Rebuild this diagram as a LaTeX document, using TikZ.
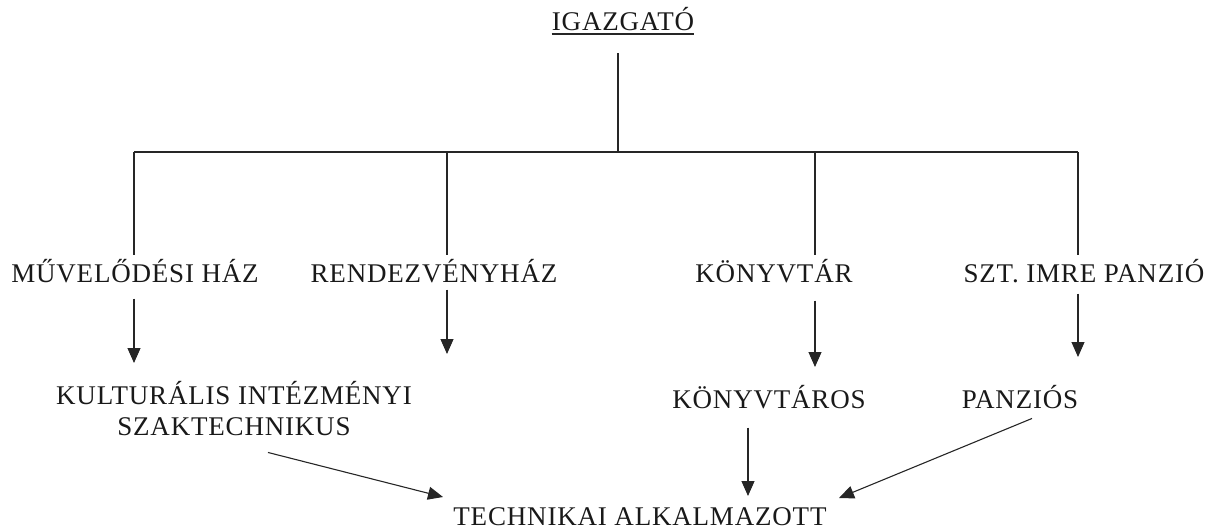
\documentclass[tikz,border=0pt]{standalone}
\usepackage{fontspec}
\setmainfont{Liberation Serif}[LetterSpace=3]
\usetikzlibrary{arrows.meta}

\def\unit{1pt}

\begin{document}
\begin{tikzpicture}[x=\unit, y=-\unit,
    lbl/.style={font=\fontsize{27}{31}\selectfont, inner sep=0pt, anchor=base, align=center, text=black!90},
    conn/.style={line width=1.1pt, draw=black!85},
    arr/.style={conn, -{Triangle[length=15pt,width=13pt]}}]
      \useasboundingbox (0,0) rectangle (1218,530);
      \node[lbl] (igaz) at (623,30) {IGAZGATÓ};
      \draw[line width=1.8pt, black!85] ([yshift=-4pt]igaz.base west) -- ([yshift=-4pt]igaz.base east);
      \coordinate (top) at (618,53);
      \coordinate (b0) at (618,152);
      \coordinate (b1) at (134,152);
      \coordinate (b2) at (447,152);
      \coordinate (b3) at (815,152);
      \coordinate (b4) at (1078,152);
      \draw[conn] (top) -- (b0);
      \draw[conn] (b1) -- (b4);
      \node[lbl] (muv) at (135,282) {MŰVELŐDÉSI HÁZ};
      \node[lbl] (rend) at (434,282) {RENDEZVÉNYHÁZ};
      \node[lbl] (konyv) at (774,282) {KÖNYVTÁR};
      \node[lbl] (szt) at (1084,282) {SZT. IMRE PANZIÓ};
      \foreach \b/\n in {b1/muv, b2/rend, b3/konyv, b4/szt}
        \draw[conn, shorten >=4pt] (\b) -- (\b |- \n.north);
      \coordinate (t1) at (134,363);
      \coordinate (t2) at (447,354);
      \coordinate (t3) at (815,367);
      \coordinate (t4) at (1078,357);
      \foreach \n/\t/\s in {muv/t1/16, rend/t2/7, konyv/t3/18, szt/t4/11}
        \draw[arr, shorten <=\s pt] (\t |- \n.south) -- (\t);
      \node[lbl] (kult) at (234,435) {KULTURÁLIS INTÉZMÉNYI\\SZAKTECHNIKUS};
      \node[lbl] (kos) at (769,408) {KÖNYVTÁROS};
      \node[lbl] (pan) at (1020,408) {PANZIÓS};
      \node[lbl] (tech) at (640,525) {TECHNIKAI ALKALMAZOTT};
      \coordinate (t5) at (443,497);
      \coordinate (t6) at (748,496);
      \coordinate (t7) at (839,498);
      \draw[arr] ([shift={(34,17)}]kult.south) -- (t5);
      \draw[arr, shorten <=19pt] (t6 |- kos.south) -- (t6);
      \draw[arr] ([shift={(12,10)}]pan.south) -- (t7);
    \end{tikzpicture}
\end{document}
